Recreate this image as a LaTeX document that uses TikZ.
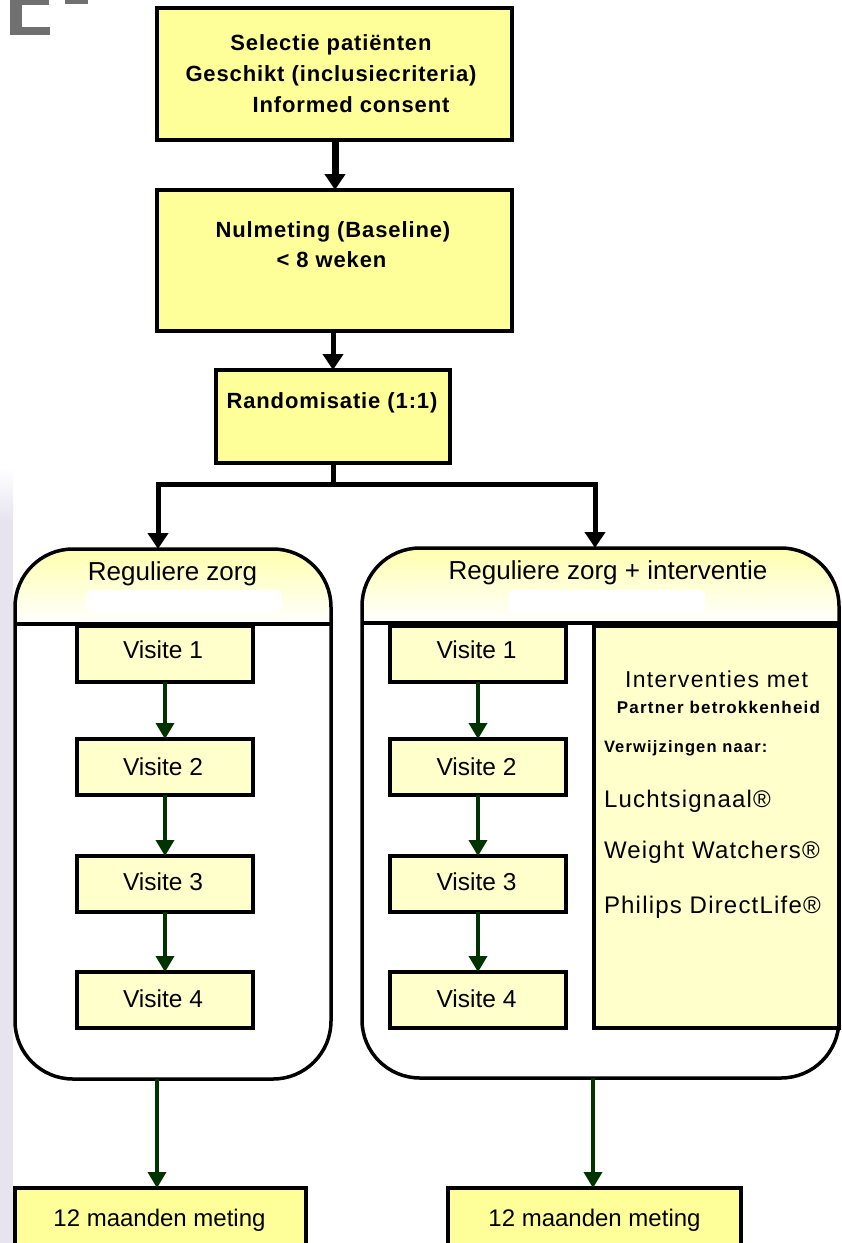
\documentclass[tikz,border=0pt]{standalone}
\usepackage{fontspec}
\setmainfont{Liberation Sans}
\newfontfamily\lsfont[LetterSpace=5]{Liberation Sans}
\newfontfamily\lsmfont[LetterSpace=6]{Liberation Sans}
\newfontfamily\lsbfont[LetterSpace=4]{Liberation Sans}
\newfontfamily\lsbbfont[LetterSpace=7]{Liberation Sans}
\usetikzlibrary{arrows.meta}
\definecolor{topY}{HTML}{FFFF99}
\definecolor{visY}{HTML}{FFFFCC}
\definecolor{hdrTop}{HTML}{FFFFAE}
\definecolor{dgreen}{HTML}{003300}
\definecolor{lav}{HTML}{E7E4EF}
\definecolor{logoG}{HTML}{707070}
\newcommand\myfs[1]{\fontsize{#1}{#1}\selectfont}
\begin{document}
\begin{tikzpicture}[x=1pt,y=-1pt,
  topbox/.style={draw=black, line width=4pt, fill=topY, inner sep=0pt, outer sep=0pt},
  visit/.style={draw=black, line width=3.5pt, fill=visY, minimum width=176pt, minimum height=56pt, inner sep=0pt, outer sep=0pt},
  txt/.style={inner sep=0pt, outer sep=0pt, anchor=base},
  ltxt/.style={inner sep=0pt, outer sep=0pt, anchor=base west},
  blk/.style={draw=black, line width=5pt, -{Triangle[length=16pt,width=20pt]}},
  grn/.style={draw=dgreen, line width=3.5pt, -{Triangle[length=16pt,width=18pt]}},
  panel/.style={draw=black, line width=3.5pt, rounded corners=58pt},
  boldtxt/.style={font=\lsbfont\bfseries\myfs{22}},
  vtxt/.style={font=\myfs{24.5}}
]
\useasboundingbox (0,0) rectangle (842,1243);
\clip (0,0) rectangle (842,1243);
\fill[white] (0,0) rectangle (842,1243);

% background fragments
\shade[top color=white, bottom color=lav] (0,468) rectangle (13,520);
\fill[lav] (0,520) rectangle (13,1243);
\fill[logoG] (10,0) rectangle (22,35);
\fill[logoG] (10,27) rectangle (50,35);
\fill[logoG] (22,0) rectangle (49,5);
\fill[logoG] (65,0) rectangle (88,4);

% top column
\node[topbox, minimum width=355pt, minimum height=132pt] (sel) at (334.5,74) {};
\node[txt, boldtxt] (sel1) at (331,50) {Selectie patiënten};
\node[txt, boldtxt] (sel2) at (331,81.5) {Geschikt (inclusiecriteria)};
\node[txt, boldtxt] (sel3) at (351,112) {Informed consent};

\node[topbox, minimum width=355pt, minimum height=141pt] (nul) at (334.5,260.5) {};
\node[txt, boldtxt] (nul1) at (333,237) {Nulmeting (Baseline)};
\node[txt, boldtxt] (nul2) at (331.5,267) {< 8 weken};

\node[topbox, minimum width=234pt, minimum height=93pt] (rnd) at (333,416.5) {};
\node[txt, boldtxt] (rnd1) at (332,408) {Randomisatie (1:1)};

\draw[blk, line width=7pt] (sel.south -| 335,0) -- (nul.north -| 335,0);
\draw[blk] (nul.south -| 333,0) -- (rnd.north);

% panels
\coordinate (br) at (333,484);
\coordinate (la) at (158,549);
\coordinate (ra) at (595,548);
\draw[blk] (rnd.south) -- (br) -| (la);
\draw[blk] (br) -| (ra);

\begin{scope}
  \clip[rounded corners=58pt] (15,549) rectangle (331,1079);
  \shade[top color=hdrTop, bottom color=white] (15,549) rectangle (331,624);
\end{scope}
\begin{scope}
  \clip[rounded corners=58pt] (362,548) rectangle (839,1078);
  \shade[top color=hdrTop, bottom color=white] (362,548) rectangle (839,623);
\end{scope}
\fill[white, rounded corners=5pt] (86,590) rectangle (282,612);
\fill[white, rounded corners=5pt] (509,590) rectangle (705,614);
\draw[panel] (15,549) rectangle (331,1079);
\draw[panel] (362,548) rectangle (839,1078);
\draw[line width=3.5pt] (15,624) -- (331,624);
\draw[line width=3.5pt] (362,623) -- (839,623);
\node[txt, font=\myfs{26}] (hl) at (172.5,580) {Reguliere zorg};
\node[txt, font=\myfs{26}] (hr) at (608,579) {Reguliere zorg + interventie};

% left visits
\node[visit] (l1) at (165,654) {};
\node[visit] (l2) at (165,767) {};
\node[visit] (l3) at (165,884) {};
\node[visit] (l4) at (165,1000) {};
\node[txt, vtxt] (l1t) at (163,658) {Visite 1};
\node[txt, vtxt] (l2t) at (163,775) {Visite 2};
\node[txt, vtxt] (l3t) at (163,890) {Visite 3};
\node[txt, vtxt] (l4t) at (163,1007) {Visite 4};
\draw[grn] (l1) -- (l2);
\draw[grn] (l2) -- (l3);
\draw[grn] (l3) -- (l4);

% right visits
\node[visit] (r1) at (478,654) {};
\node[visit] (r2) at (478,767) {};
\node[visit] (r3) at (478,884) {};
\node[visit] (r4) at (478,1000) {};
\node[txt, vtxt] (r1t) at (476.5,658) {Visite 1};
\node[txt, vtxt] (r2t) at (476.5,775) {Visite 2};
\node[txt, vtxt] (r3t) at (476.5,890) {Visite 3};
\node[txt, vtxt] (r4t) at (476.5,1007) {Visite 4};
\draw[grn] (r1) -- (r2);
\draw[grn] (r2) -- (r3);
\draw[grn] (r3) -- (r4);

% interventions box
\node[draw=black, line width=3.5pt, fill=visY, minimum width=245pt, minimum height=402pt, inner sep=0pt, outer sep=0pt] (int) at (716.5,827) {};
\node[txt, font=\lsmfont\myfs{23}] (i1) at (716.5,687) {Interventies met};
\node[txt, font=\lsbbfont\bfseries\myfs{17}] (i2) at (718.5,713) {Partner betrokkenheid};
\node[ltxt, font=\lsbbfont\bfseries\myfs{16.5}] (i3) at (604,752) {Verwijzingen naar:};
\node[ltxt, font=\lsfont\myfs{24}] (i4) at (604,807) {Luchtsignaal®};
\node[ltxt, font=\lsfont\myfs{24}] (i5) at (604,858) {Weight Watchers®};
\node[ltxt, font=\lsfont\myfs{24}] (i6) at (604,913) {Philips DirectLife®};

% 12 month boxes
\node[topbox, minimum width=291pt, minimum height=80pt] (ml) at (160.5,1228) {};
\node[topbox, minimum width=293pt, minimum height=80pt] (mr) at (594.5,1228) {};
\node[txt, font=\myfs{24}] (mlt) at (159.5,1226) {12 maanden meting};
\node[txt, font=\myfs{24}] (mrt) at (594.5,1226) {12 maanden meting};
\coordinate (lpb) at (157,1079);
\coordinate (rpb) at (593,1078);
\draw[grn] (lpb) -- (lpb |- ml.north);
\draw[grn] (rpb) -- (rpb |- mr.north);
\end{tikzpicture}
\end{document}
